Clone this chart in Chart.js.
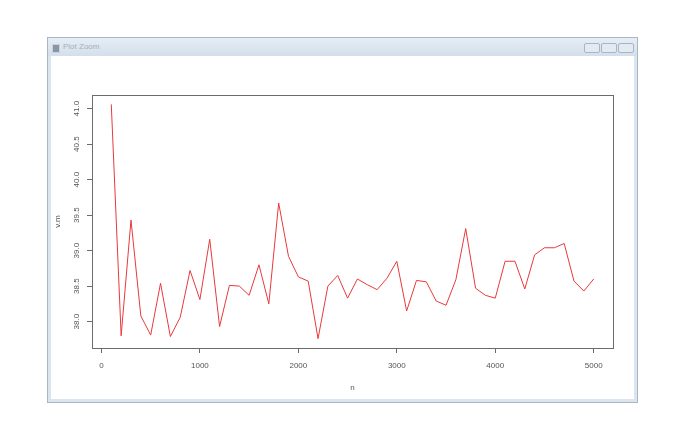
<!DOCTYPE html>
<html>
<head>
<meta charset="utf-8">
<script src="https://cdn.jsdelivr.net/npm/chart.js@4/dist/chart.umd.min.js"></script>
<style>
  html, body { margin: 0; padding: 0; background: #fff; }
  #page { position: relative; width: 700px; height: 422px; overflow: hidden; }
  #win {
    position: absolute; left: 47px; top: 37px; width: 589px; height: 364px;
    border: 1px solid #a9b6c6; background: #dbe5f0;
  }
  #titlebar {
    position: absolute; left: 0; top: 0; right: 0; height: 18px;
    background: linear-gradient(#e6edf5, #d3dfec);
  }
  #titlebar .icon {
    position: absolute; left: 4px; top: 6px; width: 6px; height: 7px;
    background: #8a96a6; border: 1px solid #c9d3df;
  }
  #titlebar .txt {
    position: absolute; left: 15px; top: 4px;
    font: 8px "Liberation Sans", Arial, sans-serif; color: #a7afba;
  }
  #titlebar .btn {
    position: absolute; top: 5px; width: 14px; height: 8px;
    border: 1px solid #a8b5c5; border-radius: 2px; background: #e3eaf2;
  }
  #client {
    position: absolute; left: 3px; top: 18px; right: 3px; bottom: 3px; background: #fff;
  }
  #chart { position: absolute; left: 0; top: 0; }
</style>
</head>
<body>
<div id="page">
  <div id="win">
    <div id="titlebar">
      <div class="icon"></div>
      <div class="txt">Plot Zoom</div>
      <div class="btn" style="left:536px"></div>
      <div class="btn" style="left:553px"></div>
      <div class="btn" style="left:570px"></div>
    </div>
    <div id="client"></div>
  </div>
  <canvas id="chart" width="700" height="422"></canvas>
</div>
<script>
// data: n from 100 to 5000 in steps of 100
const nValues = [
  100, 200, 300, 400, 500, 600, 700, 800, 900, 1000,
  1100, 1200, 1300, 1400, 1500, 1600, 1700, 1800, 1900, 2000,
  2100, 2200, 2300, 2400, 2500, 2600, 2700, 2800, 2900, 3000,
  3100, 3200, 3300, 3400, 3500, 3600, 3700, 3800, 3900, 4000,
  4100, 4200, 4300, 4400, 4500, 4600, 4700, 4800, 4900, 5000
];
const vmValues = [
  41.06, 37.80, 39.43, 38.08, 37.81, 38.54, 37.79, 38.06, 38.72, 38.31,
  39.16, 37.93, 38.51, 38.50, 38.37, 38.80, 38.25, 39.67, 38.92, 38.63,
  38.57, 37.76, 38.50, 38.65, 38.33, 38.60, 38.52, 38.45, 38.61, 38.85,
  38.15, 38.58, 38.56, 38.29, 38.23, 38.59, 39.31, 38.47, 38.37, 38.33,
  38.85, 38.85, 38.46, 38.94, 39.04, 39.04, 39.10, 38.57, 38.43, 38.60
];
const xTicks = [0, 1000, 2000, 3000, 4000, 5000];
const yTicks = [38.0, 38.5, 39.0, 39.5, 40.0, 40.5, 41.0];

const AXIS_GREY = '#6b6b6b';
const LABEL_GREY = '#555';
const FONT = { family: '"Liberation Sans", Arial, sans-serif', size: 8 };

// R style box around the plot region
const boxPlugin = {
  id: 'box',
  afterDatasetsDraw(chart) {
    const a = chart.chartArea;
    const c = chart.ctx;
    c.save();
    c.strokeStyle = AXIS_GREY;
    c.lineWidth = 1;
    c.strokeRect(Math.round(a.left) + 0.5, Math.round(a.top) + 0.5,
      Math.round(a.right - a.left), Math.round(a.bottom - a.top));
    c.restore();
  }
};

const pts = nValues.map((n, i) => ({ x: n, y: vmValues[i] }));

new Chart(document.getElementById('chart'), {
  type: 'line',
  data: {
    datasets: [{
      data: pts,
      borderColor: '#e8393b',
      borderWidth: 1,
      pointRadius: 0,
      tension: 0,
      fill: false
    }]
  },
  options: {
    responsive: false,
    animation: false,
    layout: { padding: { left: 0, top: 95, right: 87, bottom: 0 } },
    plugins: { legend: { display: false }, tooltip: { enabled: false } },
    scales: {
      x: {
        type: 'linear',
        min: -96,
        max: 5196,
        afterFit(s) { s.height = 74; },
        afterBuildTicks(s) { s.ticks = xTicks.map(v => ({ value: v })); },
        border: { display: false },
        grid: { drawOnChartArea: false, drawTicks: true, tickLength: 5, color: AXIS_GREY },
        ticks: {
          color: LABEL_GREY, font: FONT, padding: 8, maxRotation: 0, autoSkip: false,
          callback: v => String(v)
        },
        title: { display: true, text: 'n', color: LABEL_GREY, font: FONT, padding: { top: 0, bottom: 29 } }
      },
      y: {
        type: 'linear',
        min: 37.628,
        max: 41.192,
        afterFit(s) { s.width = 92; },
        afterBuildTicks(s) { s.ticks = yTicks.map(v => ({ value: v })); },
        border: { display: false },
        grid: { drawOnChartArea: false, drawTicks: true, tickLength: 5, color: AXIS_GREY },
        ticks: {
          color: LABEL_GREY, font: FONT, padding: 2,
          minRotation: 90, maxRotation: 90, crossAlign: 'center',
          callback: v => Number(v).toFixed(1)
        },
        title: { display: true, text: 'v.m', color: LABEL_GREY, font: FONT, padding: { top: 53, bottom: 0 } }
      }
    }
  },
  plugins: [boxPlugin]
});
</script>
</body>
</html>
